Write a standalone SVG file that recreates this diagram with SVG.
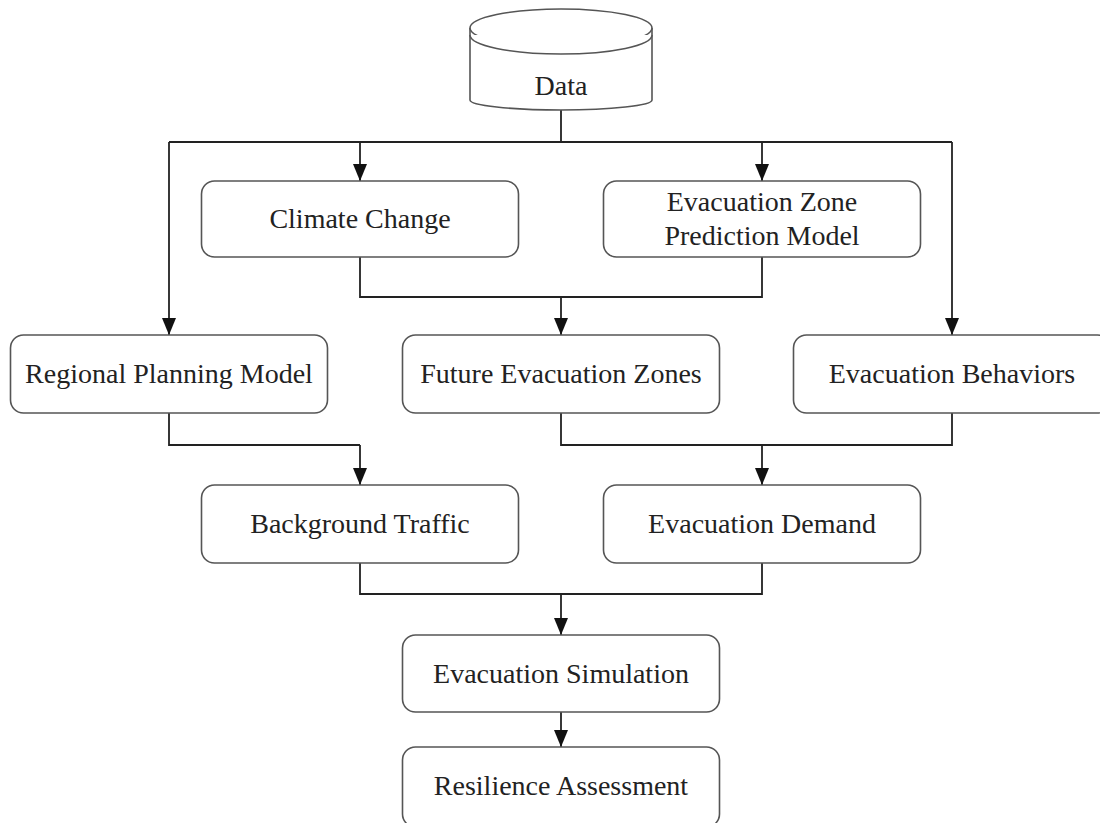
<svg xmlns="http://www.w3.org/2000/svg" width="1100" height="823" viewBox="0 0 1100 823">
<style>
.box{fill:#fff;stroke:#555;stroke-width:1.6}
.lbl{font-family:"Liberation Serif","Times New Roman",serif;font-size:28px;fill:#222;text-anchor:middle}
.ln{fill:none;stroke:#222;stroke-width:1.8}
.ar{fill:none;stroke:#222;stroke-width:1.8;marker-end:url(#ah)}
</style>
<defs>
<marker id="ah" markerWidth="17" markerHeight="14" refX="17" refY="7" orient="auto" markerUnits="userSpaceOnUse" viewBox="0 0 17 14">
<path d="M0,0 L17,7 L0,14 Z" fill="#111"/>
</marker>
</defs>
<rect width="1100" height="823" fill="#fff"/>
<g id="connectors">
<path class="ln" d="M561,110 V142 M169,142 H952"/>
<path class="ar" d="M169,142 V335"/>
<path class="ar" d="M360,142 V181"/>
<path class="ar" d="M762,142 V181"/>
<path class="ar" d="M952,142 V335"/>
<path class="ln" d="M360,257 V297 H762 V257"/>
<path class="ar" d="M561,297 V335"/>
<path class="ln" d="M169,413 V445 H360"/>
<path class="ar" d="M360,445 V485"/>
<path class="ln" d="M561,413 V445 H952 V413"/>
<path class="ar" d="M762,445 V485"/>
<path class="ln" d="M360,563 V594 H762 V563"/>
<path class="ar" d="M561,594 V635"/>
<path class="ar" d="M561,712 V747"/>
</g>
<g id="data">
<path class="box" d="M470,28 V100 A91,10 0 0,0 652,100 V28"/>
<ellipse class="box" cx="561" cy="28" rx="91" ry="19"/>
<path class="box" d="M470,35 A91,19 0 0,0 652,35" fill="none"/>
<text class="lbl" x="561" y="95">Data</text>
</g>
<g id="climate-change">
<rect class="box" x="201.5" y="181" width="317" height="76" rx="13"/>
<text class="lbl" x="360" y="228">Climate Change</text>
</g>
<g id="evacuation-zone-prediction-model">
<rect class="box" x="603.5" y="181" width="317" height="76" rx="13"/>
<text class="lbl" x="762" y="211">Evacuation Zone</text>
<text class="lbl" x="762" y="245">Prediction Model</text>
</g>
<g id="regional-planning-model">
<rect class="box" x="10.5" y="335" width="317" height="78" rx="13"/>
<text class="lbl" x="169" y="383">Regional Planning Model</text>
</g>
<g id="future-evacuation-zones">
<rect class="box" x="402.5" y="335" width="317" height="78" rx="13"/>
<text class="lbl" x="561" y="383">Future Evacuation Zones</text>
</g>
<g id="evacuation-behaviors">
<rect class="box" x="793.5" y="335" width="317" height="78" rx="13"/>
<text class="lbl" x="952" y="383">Evacuation Behaviors</text>
</g>
<g id="background-traffic">
<rect class="box" x="201.5" y="485" width="317" height="78" rx="13"/>
<text class="lbl" x="360" y="533">Background Traffic</text>
</g>
<g id="evacuation-demand">
<rect class="box" x="603.5" y="485" width="317" height="78" rx="13"/>
<text class="lbl" x="762" y="533">Evacuation Demand</text>
</g>
<g id="evacuation-simulation">
<rect class="box" x="402.5" y="635" width="317" height="77" rx="13"/>
<text class="lbl" x="561" y="683">Evacuation Simulation</text>
</g>
<g id="resilience-assessment">
<rect class="box" x="402.5" y="747" width="317" height="80" rx="13"/>
<text class="lbl" x="561" y="795">Resilience Assessment</text>
</g>
</svg>
